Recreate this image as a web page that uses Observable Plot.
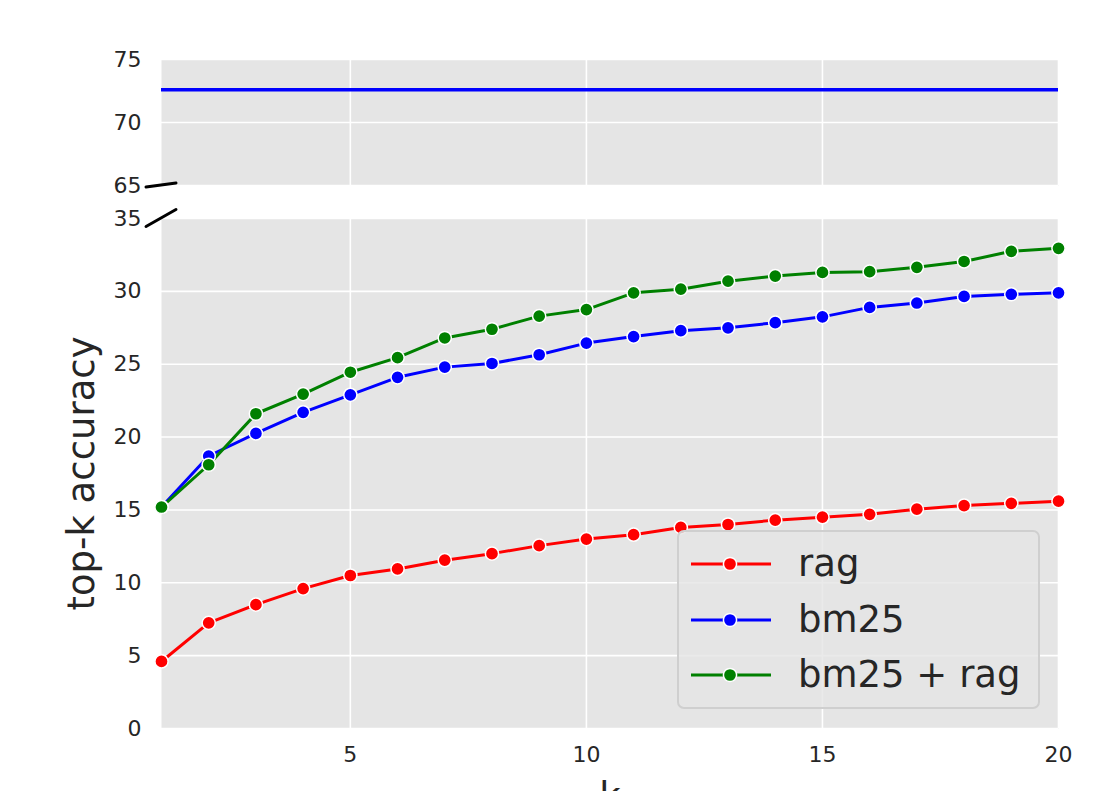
<!DOCTYPE html>
<html>
<head>
<meta charset="utf-8">
<script src="https://cdn.jsdelivr.net/npm/d3@7"></script>
<script src="https://cdn.jsdelivr.net/npm/@observablehq/plot@0.6"></script>
<style>
  html, body { margin: 0; padding: 0; background: #fff; }
  #wrap { position: relative; width: 1103px; height: 791px; overflow: hidden; font-family: "DejaVu Sans", sans-serif; }
  #top, #bottom { position: absolute; left: 0; }
  #top { top: 0; }
  #bottom { top: 200px; }
  #legend { position: absolute; left: 677px; top: 530px; width: 359px; height: 175px;
    border: 2px solid #cfcfcf; border-radius: 7px; background: rgba(229,229,229,0.8);
    font-family: "DejaVu Sans", sans-serif; font-size: 37px; color: #262626; }
  .row { position: absolute; left: 10px; display: flex; align-items: center; height: 50px; }
  .row svg { width: 84px; height: 50px; }
  .row span { margin-left: 25px; line-height: 50px; }
</style>
</head>
<body>
<div id="wrap">
  <div id="top"></div>
  <div id="bottom"></div>
  <div id="legend"></div>
</div>
<script>
// ---- data ----
const k = [1, 2, 3, 4, 5, 6, 7, 8, 9, 10, 11, 12, 13, 14, 15, 16, 17, 18, 19, 20];
const ragAcc = [4.6, 7.25, 8.5, 9.6, 10.5, 10.95, 11.55, 12.0, 12.55, 13.0, 13.3, 13.8, 14.0, 14.3, 14.5, 14.7, 15.05, 15.3, 15.45, 15.6];
const bm25Acc = [15.2, 18.7, 20.25, 21.7, 22.9, 24.1, 24.8, 25.05, 25.65, 26.45, 26.9, 27.3, 27.5, 27.85, 28.25, 28.9, 29.2, 29.65, 29.8, 29.9];
const bm25RagAcc = [15.2, 18.1, 21.6, 22.95, 24.45, 25.45, 26.8, 27.4, 28.3, 28.75, 29.9, 30.15, 30.7, 31.05, 31.3, 31.35, 31.65, 32.05, 32.75, 32.95];
const seriesNames = ["rag", "bm25", "bm25 + rag"];
const seriesColors = ["#ff0000", "#0000ff", "#008000"];
const topLineValue = 72.6;
const xTicks = [5, 10, 15, 20];
const yTicksTop = [65, 70, 75];
const yTicksBottom = [0, 5, 10, 15, 20, 25, 30, 35];
const xLabel = "k";
const yLabel = "top-k accuracy";

const seriesValues = [ragAcc, bm25Acc, bm25RagAcc];
const rows = [];
seriesNames.forEach((name, i) => k.forEach((kv, j) => rows.push({k: kv, acc: seriesValues[i][j], series: name})));

const W = 1103;
const font = "DejaVu Sans, sans-serif";
const textColor = "#262626";
const colorScale = {domain: seriesNames, range: seriesColors};

function breakMark(plot, which) {
  const svg = d3.select(plot);
  const xs = plot.scale("x"), ys = plot.scale("y");
  const x0 = xs.range[0];
  const y0 = which === "top" ? ys.range[0] : ys.range[1];
  const h = Math.abs(ys.range[0] - ys.range[1]);
  const w = Math.abs(xs.range[1] - xs.range[0]);
  const dx = w * 0.0167, dy = h * 0.0167;
  svg.append("line")
    .attr("x1", x0 - dx).attr("y1", y0 + dy)
    .attr("x2", x0 + dx).attr("y2", y0 - dy)
    .attr("stroke", "black").attr("stroke-width", 3).attr("stroke-linecap", "round");
}

// ---- top panel ----
const topPlot = Plot.plot({
  width: W, height: 200,
  marginLeft: 161, marginRight: 45, marginTop: 59, marginBottom: 15,
  style: {fontFamily: font, background: "transparent", overflow: "visible"},
  x: {domain: [1, 20]},
  y: {domain: [65, 75]},
  marks: [
    Plot.frame({fill: "#e5e5e5"}),
    Plot.gridX(xTicks, {stroke: "white", strokeOpacity: 1, strokeWidth: 1.6}),
    Plot.gridY(yTicksTop, {stroke: "white", strokeOpacity: 1, strokeWidth: 1.6}),
    Plot.ruleY([topLineValue], {stroke: seriesColors[1], strokeWidth: 3.5}),
    Plot.axisY(yTicksTop, {tickSize: 0, tickPadding: 20, fontSize: 22, fill: textColor, label: null}),
    Plot.axisX({ticks: [], label: null})
  ]
});
breakMark(topPlot, "top");
document.getElementById("top").appendChild(topPlot);

// ---- bottom panel ----
const bottomPlot = Plot.plot({
  width: W, height: 591,
  marginLeft: 161, marginRight: 45, marginTop: 18, marginBottom: 63,
  style: {fontFamily: font, background: "transparent", overflow: "visible"},
  x: {domain: [1, 20]},
  y: {domain: [0, 35]},
  color: colorScale,
  marks: [
    Plot.frame({fill: "#e5e5e5"}),
    Plot.gridX(xTicks, {stroke: "white", strokeOpacity: 1, strokeWidth: 1.6}),
    Plot.gridY(yTicksBottom, {stroke: "white", strokeOpacity: 1, strokeWidth: 1.6}),
    Plot.line(rows, {x: "k", y: "acc", z: "series", stroke: "series", strokeWidth: 3}),
    Plot.dot(rows, {x: "k", y: "acc", fill: "series", stroke: "white", strokeWidth: 1.5, r: 6.6}),
    Plot.axisY(yTicksBottom, {tickSize: 0, tickPadding: 20, fontSize: 22, fill: textColor, label: null}),
    Plot.axisX(xTicks, {tickSize: 0, tickPadding: 18, fontSize: 22, fill: textColor, label: null}),
    Plot.text([yLabel], {frameAnchor: "left", textAnchor: "middle", dx: -79, rotate: -90, fontSize: 37, fill: textColor}),
    Plot.text([xLabel], {frameAnchor: "bottom", textAnchor: "middle", dy: 54, lineAnchor: "top", fontSize: 37, fill: textColor})
  ]
});
breakMark(bottomPlot, "bottom");
document.getElementById("bottom").appendChild(bottomPlot);

// ---- legend ----
const legend = document.getElementById("legend");
seriesNames.forEach((name, i) => {
  const row = document.createElement("div");
  row.className = "row";
  row.style.top = (7 + i * 55.7) + "px";
  row.innerHTML = `<svg viewBox="0 0 84 50"><line x1="2" x2="82" y1="25" y2="25" stroke="${seriesColors[i]}" stroke-width="3"/><circle cx="41" cy="25" r="6.6" fill="${seriesColors[i]}" stroke="white" stroke-width="1.5"/></svg><span>${name}</span>`;
  legend.appendChild(row);
});
</script>
</body>
</html>
